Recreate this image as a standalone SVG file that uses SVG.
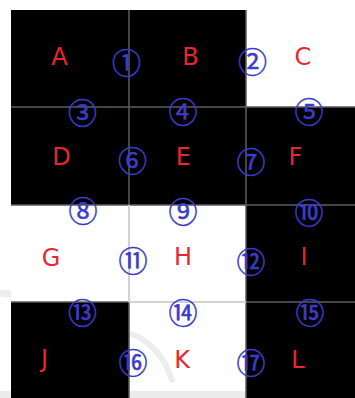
<svg xmlns="http://www.w3.org/2000/svg" width="355" height="398" viewBox="0 0 355 398">
<style>
.blk{fill:#000}
.wht{fill:#fff}
.lbl{font-family:"DejaVu Sans","Liberation Sans",sans-serif;font-size:24px;fill:#e8262e;text-anchor:middle}
.num{font-family:"Noto Sans CJK JP","DejaVu Sans",sans-serif;font-size:29px;font-weight:normal;fill:#3c3cc8;stroke:#3c3cc8;stroke-width:0.5;text-anchor:middle;dominant-baseline:central}
.dk{stroke:#5c5c5c;stroke-width:1.5;fill:none}
.lt{stroke:#d2d2d2;stroke-width:2;fill:none}
.wm{fill:none;stroke:#ededed;stroke-linecap:round}
</style>
<rect x="0" y="0" width="355" height="398" fill="#fff"/>
<g id="watermark">
<rect x="0" y="391" width="355" height="7" fill="#ececec"/>
<path class="wm" d="M0 293 L70 300" stroke-width="7"/>
<path class="wm" d="M132 334 Q160 345 172 380" stroke-width="6"/>
</g>
<g id="A"><rect class="blk" x="11" y="10" width="118" height="97"/><text class="lbl" x="59.5" y="65">A</text></g>
<g id="B"><rect class="blk" x="129" y="10" width="117" height="97"/><text class="lbl" x="190.5" y="65">B</text></g>
<g id="C"><rect class="wht" x="246" y="10" width="109" height="97"/><text class="lbl" x="303" y="65">C</text></g>
<g id="D"><rect class="blk" x="11" y="107" width="118" height="98"/><text class="lbl" x="61.5" y="165">D</text></g>
<g id="E"><rect class="blk" x="129" y="107" width="117" height="98"/><text class="lbl" x="183.3" y="165">E</text></g>
<g id="F"><rect class="blk" x="246" y="107" width="109" height="98"/><text class="lbl" x="295.5" y="165">F</text></g>
<g id="G"><rect class="wht" x="11" y="205" width="118" height="97"/><text class="lbl" x="51" y="266">G</text></g>
<g id="H"><rect class="wht" x="129" y="205" width="117" height="97"/><text class="lbl" x="183" y="265">H</text></g>
<g id="I"><rect class="blk" x="246" y="205" width="109" height="97"/><text class="lbl" x="304" y="265">I</text></g>
<g id="J"><rect class="blk" x="11" y="302" width="118" height="96"/><text class="lbl" x="44.5" y="367">J</text></g>
<g id="K"><text class="lbl" x="182" y="368">K</text></g>
<g id="L"><rect class="blk" x="246" y="302" width="109" height="96"/><text class="lbl" x="298" y="368">L</text></g>
<g id="connectors">
<path class="dk" d="M129 10 V205 M246 10 V398 M129 302 V398"/>
<path class="dk" d="M11 107 H355 M11 205 H355 M11 302 H129 M246 302 H355"/>
<path class="lt" d="M129 205 V302 M129 302 H246"/>
</g>
<g id="n1"><text class="num" x="126.5" y="60.5">①</text></g>
<g id="n2"><text class="num" x="252.5" y="60">②</text></g>
<g id="n3"><text class="num" x="82.5" y="110.5">③</text></g>
<g id="n4"><text class="num" x="183" y="110">④</text></g>
<g id="n5"><text class="num" x="309" y="110">⑤</text></g>
<g id="n6"><text class="num" x="132.5" y="159">⑥</text></g>
<g id="n7"><text class="num" x="251" y="159.5">⑦</text></g>
<g id="n8"><text class="num" x="83" y="209">⑧</text></g>
<g id="n9"><text class="num" x="183" y="210">⑨</text></g>
<g id="n10"><text class="num" x="309" y="210.5">⑩</text></g>
<g id="n11"><text class="num" x="133" y="259">⑪</text></g>
<g id="n12"><text class="num" x="251" y="259.5">⑫</text></g>
<g id="n13"><text class="num" x="82.5" y="310.5">⑬</text></g>
<g id="n14"><text class="num" x="183" y="311">⑭</text></g>
<g id="n15"><text class="num" x="310" y="311">⑮</text></g>
<g id="n16"><text class="num" x="133" y="361">⑯</text></g>
<g id="n17"><text class="num" x="251" y="360.5">⑰</text></g>
</svg>
